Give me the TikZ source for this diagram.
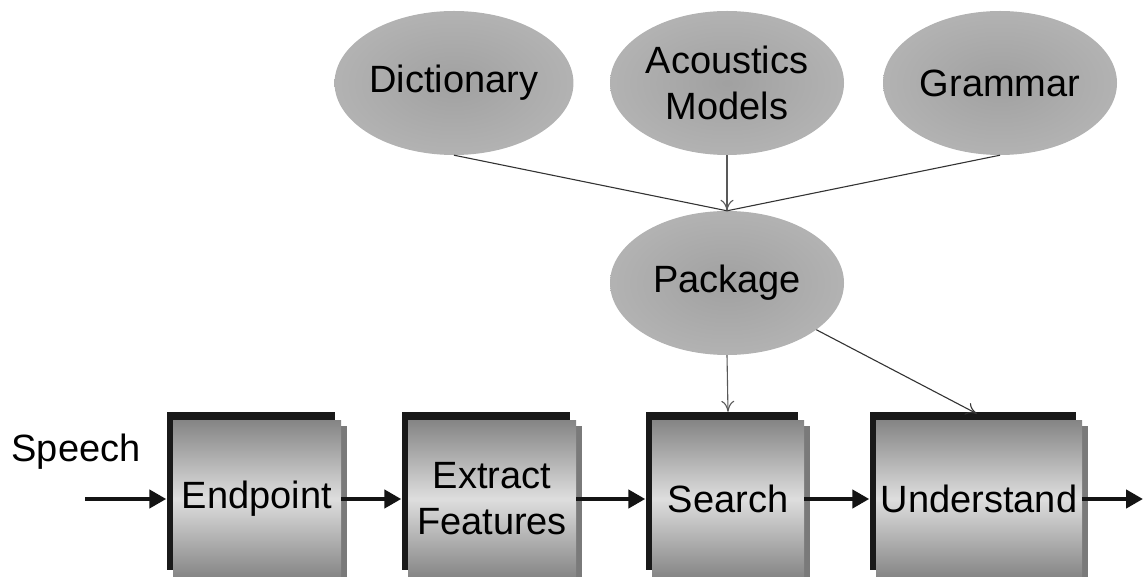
\documentclass[tikz,border=0pt]{standalone}
\usepackage{fontspec}
\setmainfont{Liberation Sans}
\usetikzlibrary{shapes.geometric,shadows,arrows.meta}

\begin{document}
\begin{tikzpicture}[x=1pt, y=-1pt,
    txt/.style = {font=\fontsize{38}{46}\selectfont, align=center},
    blob/.style = {txt, ellipse, inner sep=0pt,
      minimum width=234pt, minimum height=144pt,
      inner color=black!37, outer color=black!30},
    stage/.style = {txt, rectangle, inner sep=0pt, minimum height=158pt,
      top color=black!48, bottom color=black!48, middle color=black!13,
      general shadow={shadow xshift=6pt, shadow yshift=-6pt, fill=black!52},
      general shadow={shadow xshift=-6.5pt, shadow yshift=8pt, fill=black!90}},
    feed/.style = {line width=1.1pt, black!80},
    flow/.style = {-{Triangle[length=17pt,width=18pt]}, line width=4.5pt,
      black!92, shorten >=6.5pt}
  ]
    \useasboundingbox (0,0) rectangle (1143,577);
    % knowledge sources
    \path
      (454,83) node[blob] (dict) {Dictionary}
      (727,83) node[blob] (acou) {Acoustics\\Models}
      (1000,83) node[blob] (gram) {Grammar}
      (727,283) node[blob] (pack) {Package}
    ;
    % processing stages
    \path
      (257,499) node[stage, minimum width=168pt] (endp) {Endpoint}
      (492,499) node[stage, minimum width=168pt] (extr) {Extract\\Features}
      (728,499) node[stage, minimum width=152pt] (srch) {Search}
      (979,499) node[stage, minimum width=206pt] (undr) {Understand}
      (76,452) node[txt] (spch) {Speech}
      (85,499) coordinate (in)
      (1143,499) coordinate (out)
    ;
    % feeding lines
    \draw[feed] (dict.south) -- (pack.north);
    \draw[feed] (gram.south) -- (pack.north);
    \path[feed, black!65, -{To[length=11pt,width=13pt]}]
      (acou.south) edge (pack.north)
      (pack.south) edge ([yshift=8pt]srch.north)
    ;
    \draw[feed, -{To[length=11pt,width=13pt]}]
      (pack) -- ([xshift=-2pt,yshift=6pt]undr.north);
    % signal flow
    \draw[flow] (in) -- (endp);
    \foreach \a/\b in {endp/extr, extr/srch, srch/undr}{
      \draw[flow] (\a) -- (\b);
    }
    \draw[flow, shorten >=0pt] (undr) -- (out);
  \end{tikzpicture}
\end{document}
